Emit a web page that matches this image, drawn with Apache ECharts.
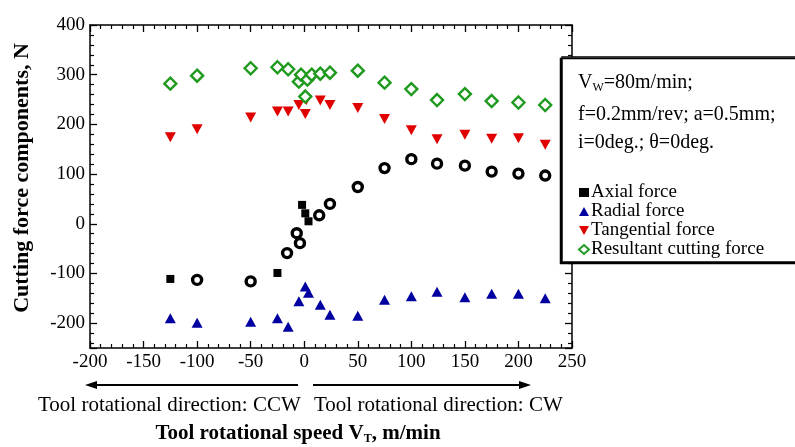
<!DOCTYPE html>
<html>
<head>
<meta charset="utf-8">
<script src="https://cdn.jsdelivr.net/npm/echarts@6/dist/echarts.min.js"></script>
<style>
  html, body { margin: 0; padding: 0; background: #fff; }
  #chart { width: 795px; height: 447px; }
</style>
</head>
<body>
<div id="chart"></div>
<script>
// [tool speed V_T (m/min), force (N)]
var axialSolid = [[-125, -111], [-25, -99], [-2, 38], [1, 21], [4, 5]];
var axialOpen = [[-100, -113], [-50, -116], [-16, -59], [-4, -39], [-7, -19], [14, 17], [24, 40],
  [50, 74], [75, 112], [100, 130], [124, 121], [150, 117], [175, 105], [200, 101], [225, 97]];
var radial = [[-125, -190], [-100, -199], [-50, -197], [-25, -190], [-15, -207], [-5, -156], [1, -126],
  [4, -139], [15, -163], [24, -183], [50, -185], [75, -153], [100, -146], [124, -137], [150, -148],
  [175, -141], [200, -141], [225, -150]];
var tangential = [[-125, 174], [-100, 190], [-50, 214], [-25, 226], [-15, 226], [-5, 239], [2, 249],
  [1, 221], [15, 248], [24, 239], [50, 233], [75, 211], [100, 188], [124, 170], [150, 179], [175, 171],
  [200, 172], [225, 159]];
var resultant = [[-125, 282], [-100, 298], [-50, 313], [-25, 315], [-15, 311], [-5, 286], [-3, 300],
  [1, 256], [3, 290], [7, 300], [15, 302], [24, 304], [50, 308], [75, 284], [100, 271], [124, 249],
  [150, 261], [175, 247], [200, 244], [225, 239]];

var seriesNames = ['Axial force', 'Radial force', 'Tangential force', 'Resultant cutting force'];
var conditions = [
  '{t|V}{s|W}{t|=80m/min;}',
  '{t|f=0.2mm/rev; a=0.5mm;}',
  '{t|i=0deg.; \u03b8=0deg.}'
];
var conditionRowsY = [83, 115, 143];
var directionLeft = 'Tool rotational direction: CCW';
var directionRight = 'Tool rotational direction: CW';

var serif = '"Liberation Serif", "DejaVu Serif", serif';
var downTriangle = 'path://M0,0 L10,0 L5,9 Z';
var chart = echarts.init(document.getElementById('chart'), null, { renderer: 'canvas' });

function frameAxis(extra) {
  var base = {
    type: 'value',
    axisLine: { show: true, onZero: false, lineStyle: { color: '#000', width: 1.5 } },
    axisTick: { show: true, inside: true, length: 7, lineStyle: { color: '#000', width: 1.3 } },
    minorTick: { show: true, splitNumber: 5, length: 4, lineStyle: { color: '#000', width: 1.2 } },
    splitLine: { show: false },
    axisLabel: { show: false }
  };
  return Object.assign(base, extra);
}

var graphics = [
  {
    type: 'rect', z: 100,
    shape: { x: 562, y: 57, width: 260, height: 205 },
    style: { fill: '#fff', stroke: '#000', lineWidth: 1.5,
      shadowColor: '#000', shadowOffsetX: -1.5, shadowOffsetY: 1.5, shadowBlur: 0 }
  },
  {
    type: 'line', z: 100,
    shape: { x1: 298, y1: 385, x2: 94, y2: 385 },
    style: { stroke: '#000', lineWidth: 1.8 }
  },
  {
    type: 'polygon', z: 100,
    shape: { points: [[85, 385], [97, 381], [97, 389]] },
    style: { fill: '#000' }
  },
  {
    type: 'line', z: 100,
    shape: { x1: 313, y1: 385, x2: 522, y2: 385 },
    style: { stroke: '#000', lineWidth: 1.8 }
  },
  {
    type: 'polygon', z: 100,
    shape: { points: [[531, 385], [519, 381], [519, 389]] },
    style: { fill: '#000' }
  },
  {
    type: 'text', x: 38, y: 405, z: 100,
    style: { text: directionLeft, fontFamily: serif, fontSize: 21, fill: '#000', verticalAlign: 'middle' }
  },
  {
    type: 'text', x: 314, y: 405, z: 100,
    style: { text: directionRight, fontFamily: serif, fontSize: 21, fill: '#000', verticalAlign: 'middle' }
  },
  {
    type: 'text', x: 298, y: 434, z: 100,
    style: {
      text: '{b|Tool rotational speed V}{sb|T}{b|, m/min}',
      align: 'center', verticalAlign: 'middle',
      rich: {
        b: { fontFamily: serif, fontSize: 21, fontWeight: 'bold', fill: '#000' },
        sb: { fontFamily: serif, fontSize: 12, fontWeight: 'bold', fill: '#000', padding: [10, 0, 0, 0] }
      }
    }
  },
  {
    type: 'text', x: 22, y: 178, z: 100, rotation: Math.PI / 2,
    style: {
      text: 'Cutting force components, N', align: 'center', verticalAlign: 'middle',
      fontFamily: serif, fontSize: 22, fontWeight: 'bold', fill: '#000'
    }
  }
];
conditions.forEach(function (line, i) {
  graphics.push({
    type: 'text', x: 578, y: conditionRowsY[i], z: 110,
    style: {
      text: line, verticalAlign: 'middle',
      rich: {
        t: { fontFamily: serif, fontSize: 20, fill: '#000' },
        s: { fontFamily: serif, fontSize: 12, fill: '#000', padding: [9, 0, 0, 0] }
      }
    }
  });
});

var option = {
  backgroundColor: '#fff',
  animation: false,
  grid: { left: 90, top: 25, right: 223, bottom: 99 },
  xAxis: [
    frameAxis({
      min: -200, max: 250, interval: 50, position: 'bottom',
      axisLabel: { show: true, color: '#000', fontFamily: serif, fontSize: 19, margin: 5 }
    }),
    frameAxis({ min: -200, max: 250, interval: 50, position: 'top' })
  ],
  yAxis: [
    frameAxis({
      min: -250, max: 400, minInterval: 100, maxInterval: 100, position: 'left',
      axisLabel: { show: true, showMinLabel: false, color: '#000', fontFamily: serif, fontSize: 19, margin: 5 }
    }),
    frameAxis({ min: -250, max: 400, minInterval: 100, maxInterval: 100, position: 'right' })
  ],
  legend: {
    orient: 'vertical',
    left: 573, top: 178,
    itemWidth: 10, itemHeight: 9, itemGap: 0,
    z: 120,
    data: seriesNames,
    textStyle: { color: '#000', fontFamily: serif, fontSize: 19, lineHeight: 17, padding: [0, 0, 0, -3] }
  },
  series: [
    {
      name: seriesNames[0], type: 'scatter', data: axialSolid,
      symbol: 'rect', symbolSize: 8, itemStyle: { color: '#000', opacity: 1 }
    },
    {
      name: seriesNames[0], type: 'scatter', data: axialOpen,
      symbol: 'circle', symbolSize: 9,
      itemStyle: { color: '#fff', borderColor: '#000', borderWidth: 3.4, opacity: 1 }
    },
    {
      name: seriesNames[1], type: 'scatter', data: radial,
      symbol: 'triangle', symbolSize: [11, 10], itemStyle: { color: '#0000a0', opacity: 1 }
    },
    {
      name: seriesNames[2], type: 'scatter', data: tangential,
      symbol: downTriangle, symbolSize: [11, 10], itemStyle: { color: '#e00000', opacity: 1 }
    },
    {
      name: seriesNames[3], type: 'scatter', data: resultant,
      symbol: 'diamond', symbolSize: 12,
      itemStyle: { color: '#fff', borderColor: '#1f9a1f', borderWidth: 2.4, opacity: 1 }
    }
  ],
  graphic: graphics
};

chart.setOption(option);
</script>
</body>
</html>
